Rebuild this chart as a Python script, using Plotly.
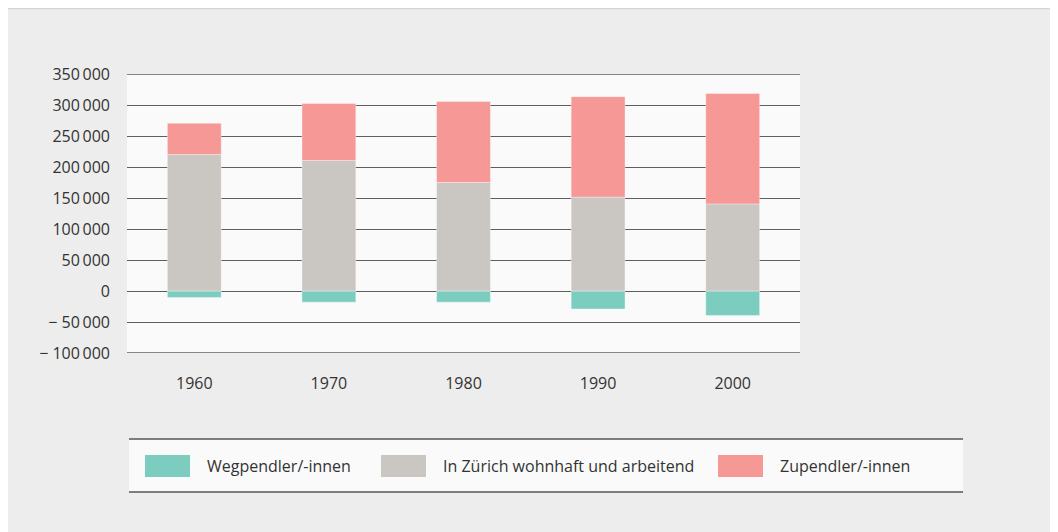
import plotly.graph_objects as go

years = ["1960", "1970", "1980", "1990", "2000"]
wegpendler = [-10500, -18000, -18000, -29000, -39500]
wohnhaft_arbeitend = [220000, 210500, 175000, 151500, 140500]
zupendler = [50500, 92000, 130500, 162000, 178000]

series_names = ["Wegpendler/-innen", "In Zürich wohnhaft und arbeitend", "Zupendler/-innen"]
series_colors = ["#7ccdc0", "#cac7c3", "#f59896"]

y_min, y_max = -100000, 350000
tick_vals = [-100000, -50000, 0, 50000, 100000, 150000, 200000, 250000, 300000, 350000]
tick_text = ["\u2212 100\u2009000", "\u2212 50\u2009000", "0", "50\u2009000", "100\u2009000",
             "150\u2009000", "200\u2009000", "250\u2009000", "300\u2009000", "350\u2009000"]

# the page places the figure at an 8px body margin
OFF = 8
W, H = 1058 - OFF, 532 - OFF
L, R, T, B = 127 - OFF, 800 - OFF, 74 - OFF, 353 - OFF
FONT = "Open Sans"
TXT = "#333333"
GRID = "#5e5e5e"

fig = go.Figure()
for name, vals, col in zip(series_names, [wegpendler, wohnhaft_arbeitend, zupendler], series_colors):
    fig.add_trace(go.Bar(
        x=years, y=vals, name=name, marker_color=col,
        marker_line=dict(color="rgba(255,255,255,0.35)", width=1),
        width=0.4, showlegend=False, hoverinfo="x+y+name",
    ))

def px_x(p):
    return (p - OFF - L) / (R - L)

def px_y(p):
    return (B - (p - OFF)) / (B - T)

shapes = []
shapes.append(dict(type="line", xref="paper", yref="paper", x0=px_x(0), x1=px_x(1070),
                   y0=px_y(8.5), y1=px_y(8.5), line=dict(color="#d6d6d6", width=1.5)))
# edge grid lines at the range limits
for yv in (y_min, y_max):
    shapes.append(dict(type="line", xref="paper", yref="y", x0=0, x1=1, y0=yv, y1=yv,
                       line=dict(color=GRID, width=1.3), layer="below"))
# legend box
shapes.append(dict(type="rect", xref="paper", yref="paper", x0=px_x(129), x1=px_x(963),
                   y0=px_y(492), y1=px_y(439), fillcolor="#fafafa", line_width=0, layer="below"))
for yy in (439, 492):
    shapes.append(dict(type="line", xref="paper", yref="paper", x0=px_x(129), x1=px_x(963),
                       y0=px_y(yy), y1=px_y(yy), line=dict(color="#555555", width=1.5)))

annotations = []
swatch_x = [145, 381, 718]
for sx, name, col in zip(swatch_x, series_names, series_colors):
    shapes.append(dict(type="rect", xref="paper", yref="paper", x0=px_x(sx), x1=px_x(sx + 45),
                       y0=px_y(477), y1=px_y(455), fillcolor=col, line_width=0))
    annotations.append(dict(xref="paper", yref="paper", x=px_x(sx + 60), y=px_y(466),
                            text=name, showarrow=False, xanchor="left", yanchor="middle",
                            font=dict(family=FONT, size=16, color=TXT)))

fig.update_layout(
    width=W, height=H,
    margin=dict(l=L, r=W - R, t=T, b=H - B, pad=0),
    paper_bgcolor="#ededed", plot_bgcolor="#fafafa",
    barmode="relative", bargap=0.6,
    font=dict(family=FONT, size=16, color=TXT),
    shapes=shapes, annotations=annotations,
    xaxis=dict(showgrid=False, zeroline=False, showline=False, ticks="",
               ticklabelstandoff=19, tickfont=dict(family=FONT, size=16, color=TXT)),
    yaxis=dict(range=[y_min, y_max], tickvals=tick_vals, ticktext=tick_text,
               showgrid=True, gridcolor=GRID, gridwidth=1,
               zeroline=True, zerolinecolor=GRID, zerolinewidth=1,
               showline=False, ticks="", ticklabelstandoff=16,
               tickfont=dict(family=FONT, size=16, color=TXT)),
)

fig.write_html("out.html")
